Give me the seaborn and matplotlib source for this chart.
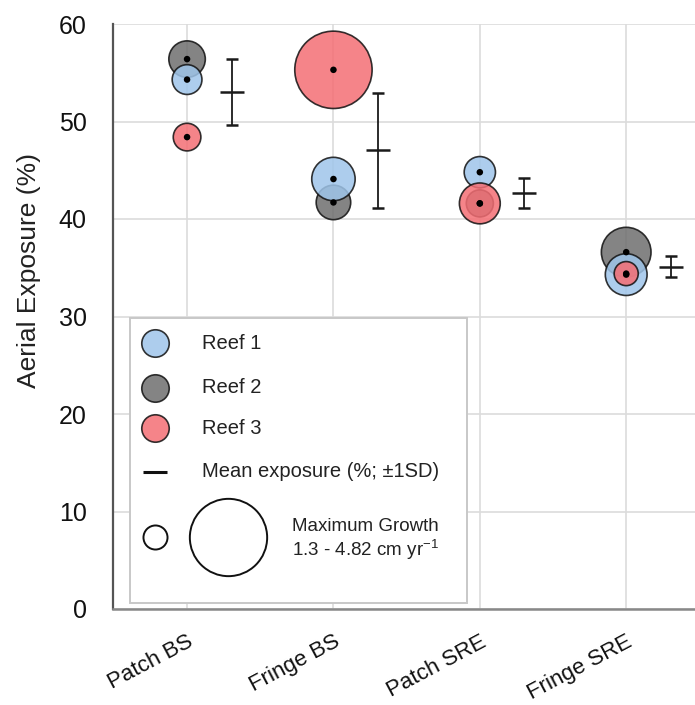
import numpy as np
import pandas as pd
import seaborn as sns
import matplotlib
matplotlib.use("Agg")
import matplotlib.pyplot as plt
from matplotlib.patches import Rectangle
from matplotlib.transforms import ScaledTranslation

# Sites along the x axis
sites = ["Patch BS", "Fringe BS", "Patch SRE", "Fringe SRE"]

# Aerial exposure (%) per reef and site
reef1_exposure = [54.3, 44.1, 44.8, 34.3]
reef2_exposure = [56.4, 41.7, 41.6, 36.6]
reef3_exposure = [48.4, 55.3, 41.6, 34.4]

# Maximum growth (cm / yr) per reef and site, shown as bubble size
reef1_growth = [1.50, 2.15, 1.56, 2.06]
reef2_growth = [1.79, 1.70, 1.40, 2.53]
reef3_growth = [1.42, 4.82, 2.01, 1.30]

growth_range = (1.3, 4.82)
y_ticks = [0, 10, 20, 30, 40, 50, 60]

reef_colors = {"Reef 1": "#9fc5ea", "Reef 2": "#6e6e6e", "Reef 3": "#f46e74"}
# drawing order: Reef 2 underneath, then Reef 1, Reef 3 on top
draw_order = ["Reef 2", "Reef 1", "Reef 3"]
exposure = {"Reef 1": reef1_exposure, "Reef 2": reef2_exposure, "Reef 3": reef3_exposure}
growth = {"Reef 1": reef1_growth, "Reef 2": reef2_growth, "Reef 3": reef3_growth}

rows = []
for reef in draw_order:
    for i, site in enumerate(sites):
        rows.append({"site": site, "pos": i, "reef": reef,
                     "exposure": exposure[reef][i], "growth": growth[reef][i]})
df = pd.DataFrame(rows)

# mean exposure and population SD per site
stats = df.groupby("pos")["exposure"].agg(["mean", lambda v: np.std(v, ddof=0)])
stats.columns = ["mean", "sd"]

sns.set_style("white")
plt.rcParams["font.family"] = ["Liberation Sans", "DejaVu Sans"]
plt.rcParams["mathtext.default"] = "regular"

fig = plt.figure(figsize=(6.95, 7.05), dpi=100)
ax = fig.add_axes([113 / 695, 1 - 609 / 705, 582 / 695, 585 / 705])

S_MIN, S_MAX = 300, 3100
sns.scatterplot(data=df, x="pos", y="exposure", hue="reef", palette=reef_colors,
                size="growth", sizes=(S_MIN, S_MAX), size_norm=growth_range,
                alpha=0.85, edgecolor="#111111", linewidth=1.2, legend=False,
                ax=ax, zorder=3)
# centre dots
sns.scatterplot(data=df, x="pos", y="exposure", color="black", s=22,
                edgecolor="none", legend=False, ax=ax, zorder=4)

# mean exposure with +-1 SD, offset to the right of each site
ax.errorbar(stats.index + 0.305, stats["mean"], yerr=stats["sd"], fmt="_",
            color="#1a1a1a", ecolor="#1a1a1a", elinewidth=1.3, capsize=4,
            capthick=1.3, markersize=17, markeredgewidth=1.8, zorder=4)

ax.set_xlim(-0.506, 3.47)
ax.set_ylim(0, 60)
ax.set_yticks(y_ticks)
ax.set_xticks(range(len(sites)))
ax.set_xticklabels(sites, rotation=28, ha="right", rotation_mode="anchor",
                   fontsize=16)
for lbl in ax.get_xticklabels():
    lbl.set_transform(lbl.get_transform() + ScaledTranslation(0.12, -0.02, fig.dpi_scale_trans))
ax.tick_params(axis="y", labelsize=18, length=11, width=1.2, color="#555555",
               pad=8, labelcolor="#111111")
ax.tick_params(axis="x", length=10, width=1.2, color="#555555", pad=6,
               labelcolor="#111111")
ax.set_xlabel("")
ax.set_ylabel("Aerial Exposure (%)", fontsize=19, color="#222222")
ax.yaxis.set_label_coords(-0.124, 0.578)

ax.grid(True, color="#dcdcdc", linewidth=1.2)
ax.set_axisbelow(True)
for side in ["top", "right"]:
    ax.spines[side].set_visible(False)
ax.spines["left"].set_color("#555555")
ax.spines["left"].set_linewidth(1.6)
ax.spines["bottom"].set_color("#888888")
ax.spines["bottom"].set_linewidth(1.8)
ax.spines["left"].set_zorder(5)
ax.spines["bottom"].set_zorder(5)

# legend panel, drawn in axes coordinates
T = ax.transAxes
ax.add_patch(Rectangle((0.029, 0.0103), 0.579, 0.487, transform=T,
                       facecolor="white", edgecolor="#c8c8c8", linewidth=1.4,
                       zorder=6))
mx, tx = 0.0722, 0.153
for reef, yy in zip(["Reef 1", "Reef 2", "Reef 3"], [0.4547, 0.3778, 0.3094]):
    ax.scatter([mx], [yy], s=390, color=reef_colors[reef], alpha=0.85,
               edgecolor="#111111", linewidth=1.2, transform=T, zorder=7,
               clip_on=False)
    ax.text(tx, yy, reef, transform=T, fontsize=14.5, va="center", ha="left",
            color="#222222", zorder=7)
ax.plot([mx - 0.02, mx + 0.02], [0.2342, 0.2342], color="#111111", lw=2.2,
        transform=T, zorder=7, solid_capstyle="butt")
ax.text(tx, 0.2342, "Mean exposure (%; \u00b11SD)", transform=T, fontsize=14.5,
        va="center", ha="left", color="#222222", zorder=7)
ax.scatter([mx], [0.1231], s=S_MIN, facecolor="white", edgecolor="#111111",
           linewidth=1.4, transform=T, zorder=7, clip_on=False)
ax.scatter([(228 - 113) / 582], [0.1231], s=S_MAX, facecolor="white",
           edgecolor="#111111", linewidth=1.4, transform=T, zorder=7,
           clip_on=False)
ax.text(0.3076, 0.1402, "Maximum Growth", transform=T, fontsize=13.5,
        va="center", ha="left", color="#222222", zorder=7)
ax.text(0.3076, 0.1008, "%.1f - %.2f cm yr$^{-1}$" % growth_range, transform=T,
        fontsize=13.5, va="center", ha="left", color="#222222", zorder=7)

fig.savefig("out.png", dpi=100)
